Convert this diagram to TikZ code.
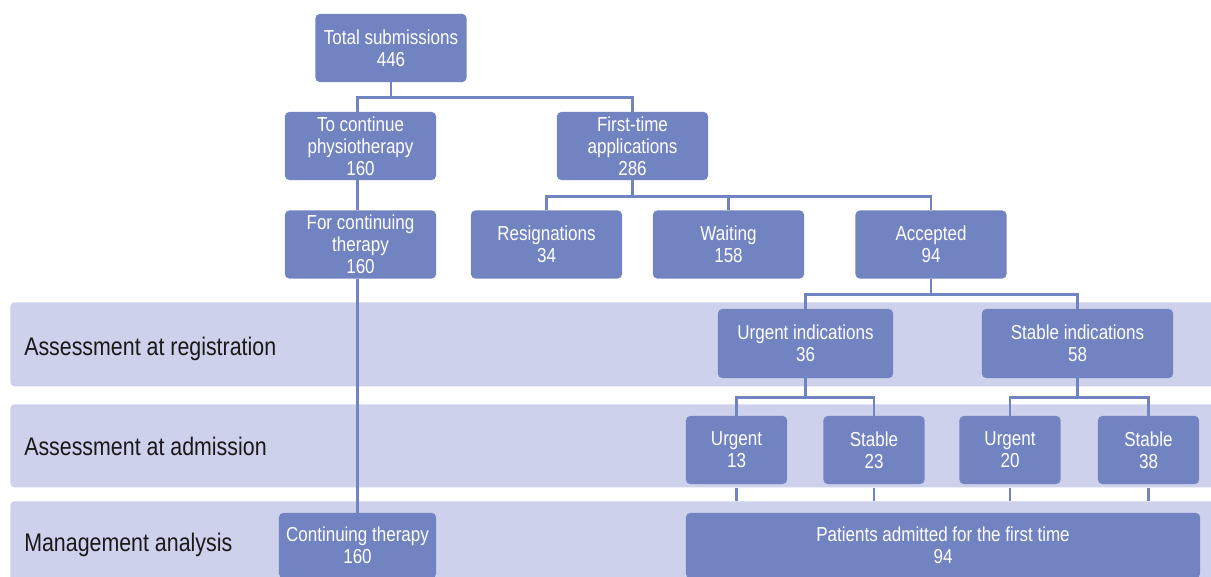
\documentclass[tikz,border=0pt]{standalone}
\usepackage{fontspec}
\setmainfont{Liberation Sans}[FakeStretch=0.84]
\usetikzlibrary{positioning}
\definecolor{boxblue}{RGB}{113,131,192}
\definecolor{bandblue}{RGB}{205,209,235}
\definecolor{labelgray}{RGB}{25,25,25}

\begin{document}
\begin{tikzpicture}[x=0.025cm, y=-0.025cm,
    box/.style={fill=boxblue, rounded corners=3pt, text=white, align=center, inner sep=0pt,
        minimum width=3.775cm, minimum height=1.7cm, font=\fontsize{14.4}{15.8}\selectfont},
    smallbox/.style={box, minimum width=2.525cm},
    band/.style={fill=bandblue, rounded corners=3pt, inner sep=0pt, minimum width=30.125cm, anchor=north west},
    bandlabel/.style={anchor=base west, inner sep=0pt, text=labelgray, font=\fontsize{18.1}{20}\selectfont},
    link/.style={draw=boxblue, line width=1.9pt}
]
\useasboundingbox (0,0) rectangle (1211,577);

% bands
\node[band, minimum height=2.1cm] (regband) at (10,302) {};
\node[band, minimum height=2.075cm] (admband) at (10,404) {};
\node[band, minimum height=2.0cm] (mgmtband) at (10,501) {};
\node[bandlabel] (reglabel) at (24,355) {Assessment at registration};
\node[bandlabel] (admlabel) at (24,455) {Assessment at admission};
\node[bandlabel] (mgmtlabel) at (24,551) {Management analysis};

\node[box] (total) at (391,48) {Total submissions\\446};
\node[box] (physio) at (360.5,146) {To continue\\physiotherapy\\160};
\node[box] (first) at (632.5,146) {First-time\\applications\\286};
\node[box] (therapy) at (360.5,244.5) {For continuing\\therapy\\160};
\node[box] (resign) at (546.5,244.5) {Resignations\\34};
\node[box] (waiting) at (728.5,244.5) {Waiting\\158};
\node[box] (accepted) at (931,244.5) {Accepted\\94};

\node[box, minimum width=4.375cm, minimum height=1.725cm] (urgind) at (805.5,343.5) {Urgent indications\\36};
\node[box, minimum width=4.775cm, minimum height=1.725cm] (stabind) at (1077.5,343.5) {Stable indications\\58};

\node[smallbox] (urg13) at (736.5,450) {Urgent\\13};
\node[smallbox] (stab23) at (874,450) {Stable\\23};
\node[smallbox] (urg20) at (1010,450) {Urgent\\20};
\node[smallbox] (stab38) at (1148.5,450) {Stable\\38};

\node[box, minimum width=12.85cm, minimum height=1.625cm] (admitted) at (943,545.5) {Patients admitted for the first time\\94};
\node[box, minimum width=3.925cm, minimum height=1.625cm] (contther) at (357.5,545.5) {Continuing therapy\\160};

% connectors
\draw[link] (total.south) -- ++(0,15) -| (physio.north -| contther.north);
\draw[link] (total.south) -- ++(0,15) -| (first.north);
\draw[link] (physio.south -| contther.north) -- (therapy.north -| contther.north);
\draw[link] (therapy.south -| contther.north) -- (contther.north);
\draw[link] (first.south) -- ++(0,16) -| (resign.north);
\draw[link] (first.south) -- ++(0,16) -| (waiting.north);
\draw[link] (first.south) -- ++(0,16) -| (accepted.north);
\draw[link] (accepted.south) -- ++(0,16) -| (urgind.north);
\draw[link] (accepted.south) -- ++(0,16) -| (stabind.north);
\draw[link] (urgind.south) -- ++(0,19) -| (urg13.north);
\draw[link] (urgind.south) -- ++(0,19) -| (stab23.north);
\draw[link] (stabind.south) -- ++(0,19) -| (urg20.north);
\draw[link] (stabind.south) -- ++(0,19) -| (stab38.north);
\foreach \n in {urg13,stab23,urg20,stab38}
    \draw[link] (\n.south |- admband.south) -- (\n.south |- mgmtband.north);
\end{tikzpicture}
\end{document}
